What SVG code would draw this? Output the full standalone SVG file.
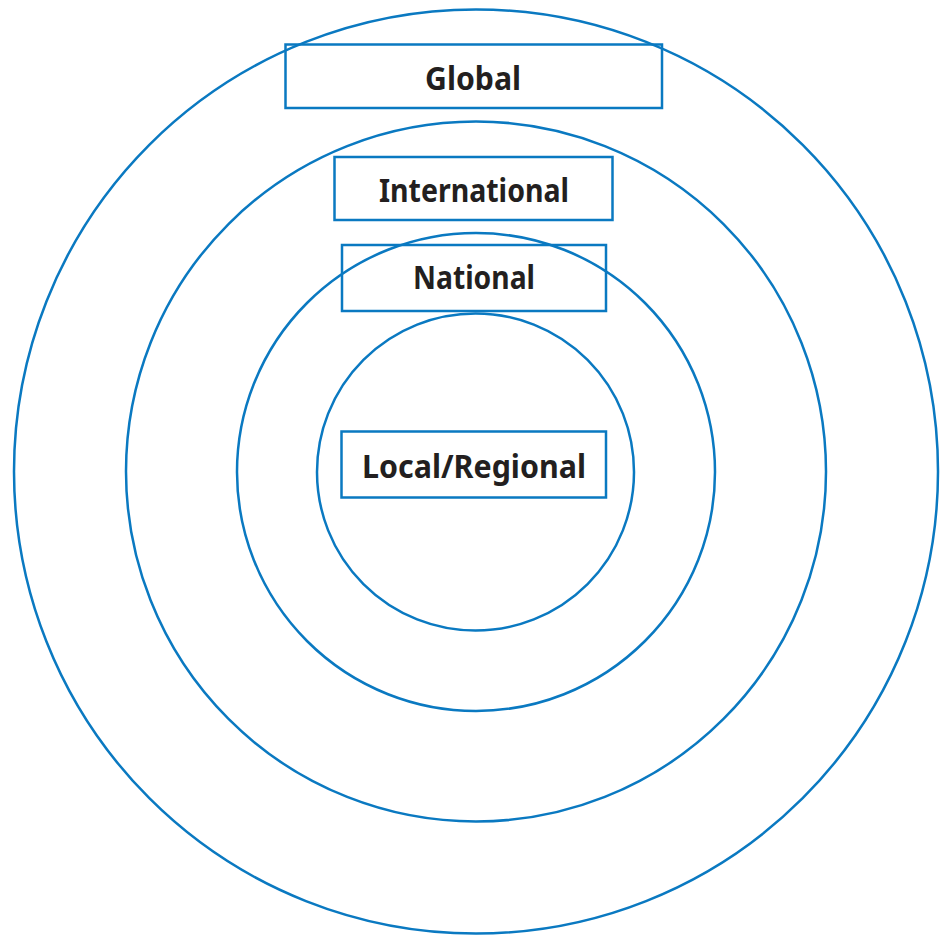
<svg xmlns="http://www.w3.org/2000/svg" width="940" height="935" viewBox="0 0 940 935">
<style>
.ring{fill:none;stroke:#0a79c1;stroke-width:2.5}
.box{fill:none;stroke:#0a79c1;stroke-width:2.5}
.lbl{font-family:"Noto Sans","Open Sans","DejaVu Sans",sans-serif;font-weight:bold;font-size:33px;fill:#231f20;text-anchor:middle}
</style>
<rect width="940" height="935" fill="#ffffff"/>
<g id="rings">
<circle class="ring" cx="476" cy="471.5" r="462"/>
<circle class="ring" cx="476" cy="471.5" r="350"/>
<circle class="ring" cx="476" cy="472" r="239"/>
<circle class="ring" cx="475.5" cy="472" r="158.5"/>
</g>
<g id="global">
<rect class="box" x="285.5" y="44.5" width="376.5" height="63.5"/>
<text class="lbl" x="473" y="90" textLength="96" lengthAdjust="spacingAndGlyphs">Global</text>
</g>
<g id="international">
<rect class="box" x="334.5" y="157" width="278" height="63"/>
<text class="lbl" x="474" y="202" textLength="190" lengthAdjust="spacingAndGlyphs">International</text>
</g>
<g id="national">
<rect class="box" x="342" y="245" width="264" height="66"/>
<text class="lbl" x="474" y="289" textLength="122" lengthAdjust="spacingAndGlyphs">National</text>
</g>
<g id="local">
<rect class="box" x="341.5" y="431.5" width="264.5" height="66"/>
<text class="lbl" x="474" y="478" textLength="224" lengthAdjust="spacingAndGlyphs">Local/Regional</text>
</g>
<g id="connectors"/>
</svg>
